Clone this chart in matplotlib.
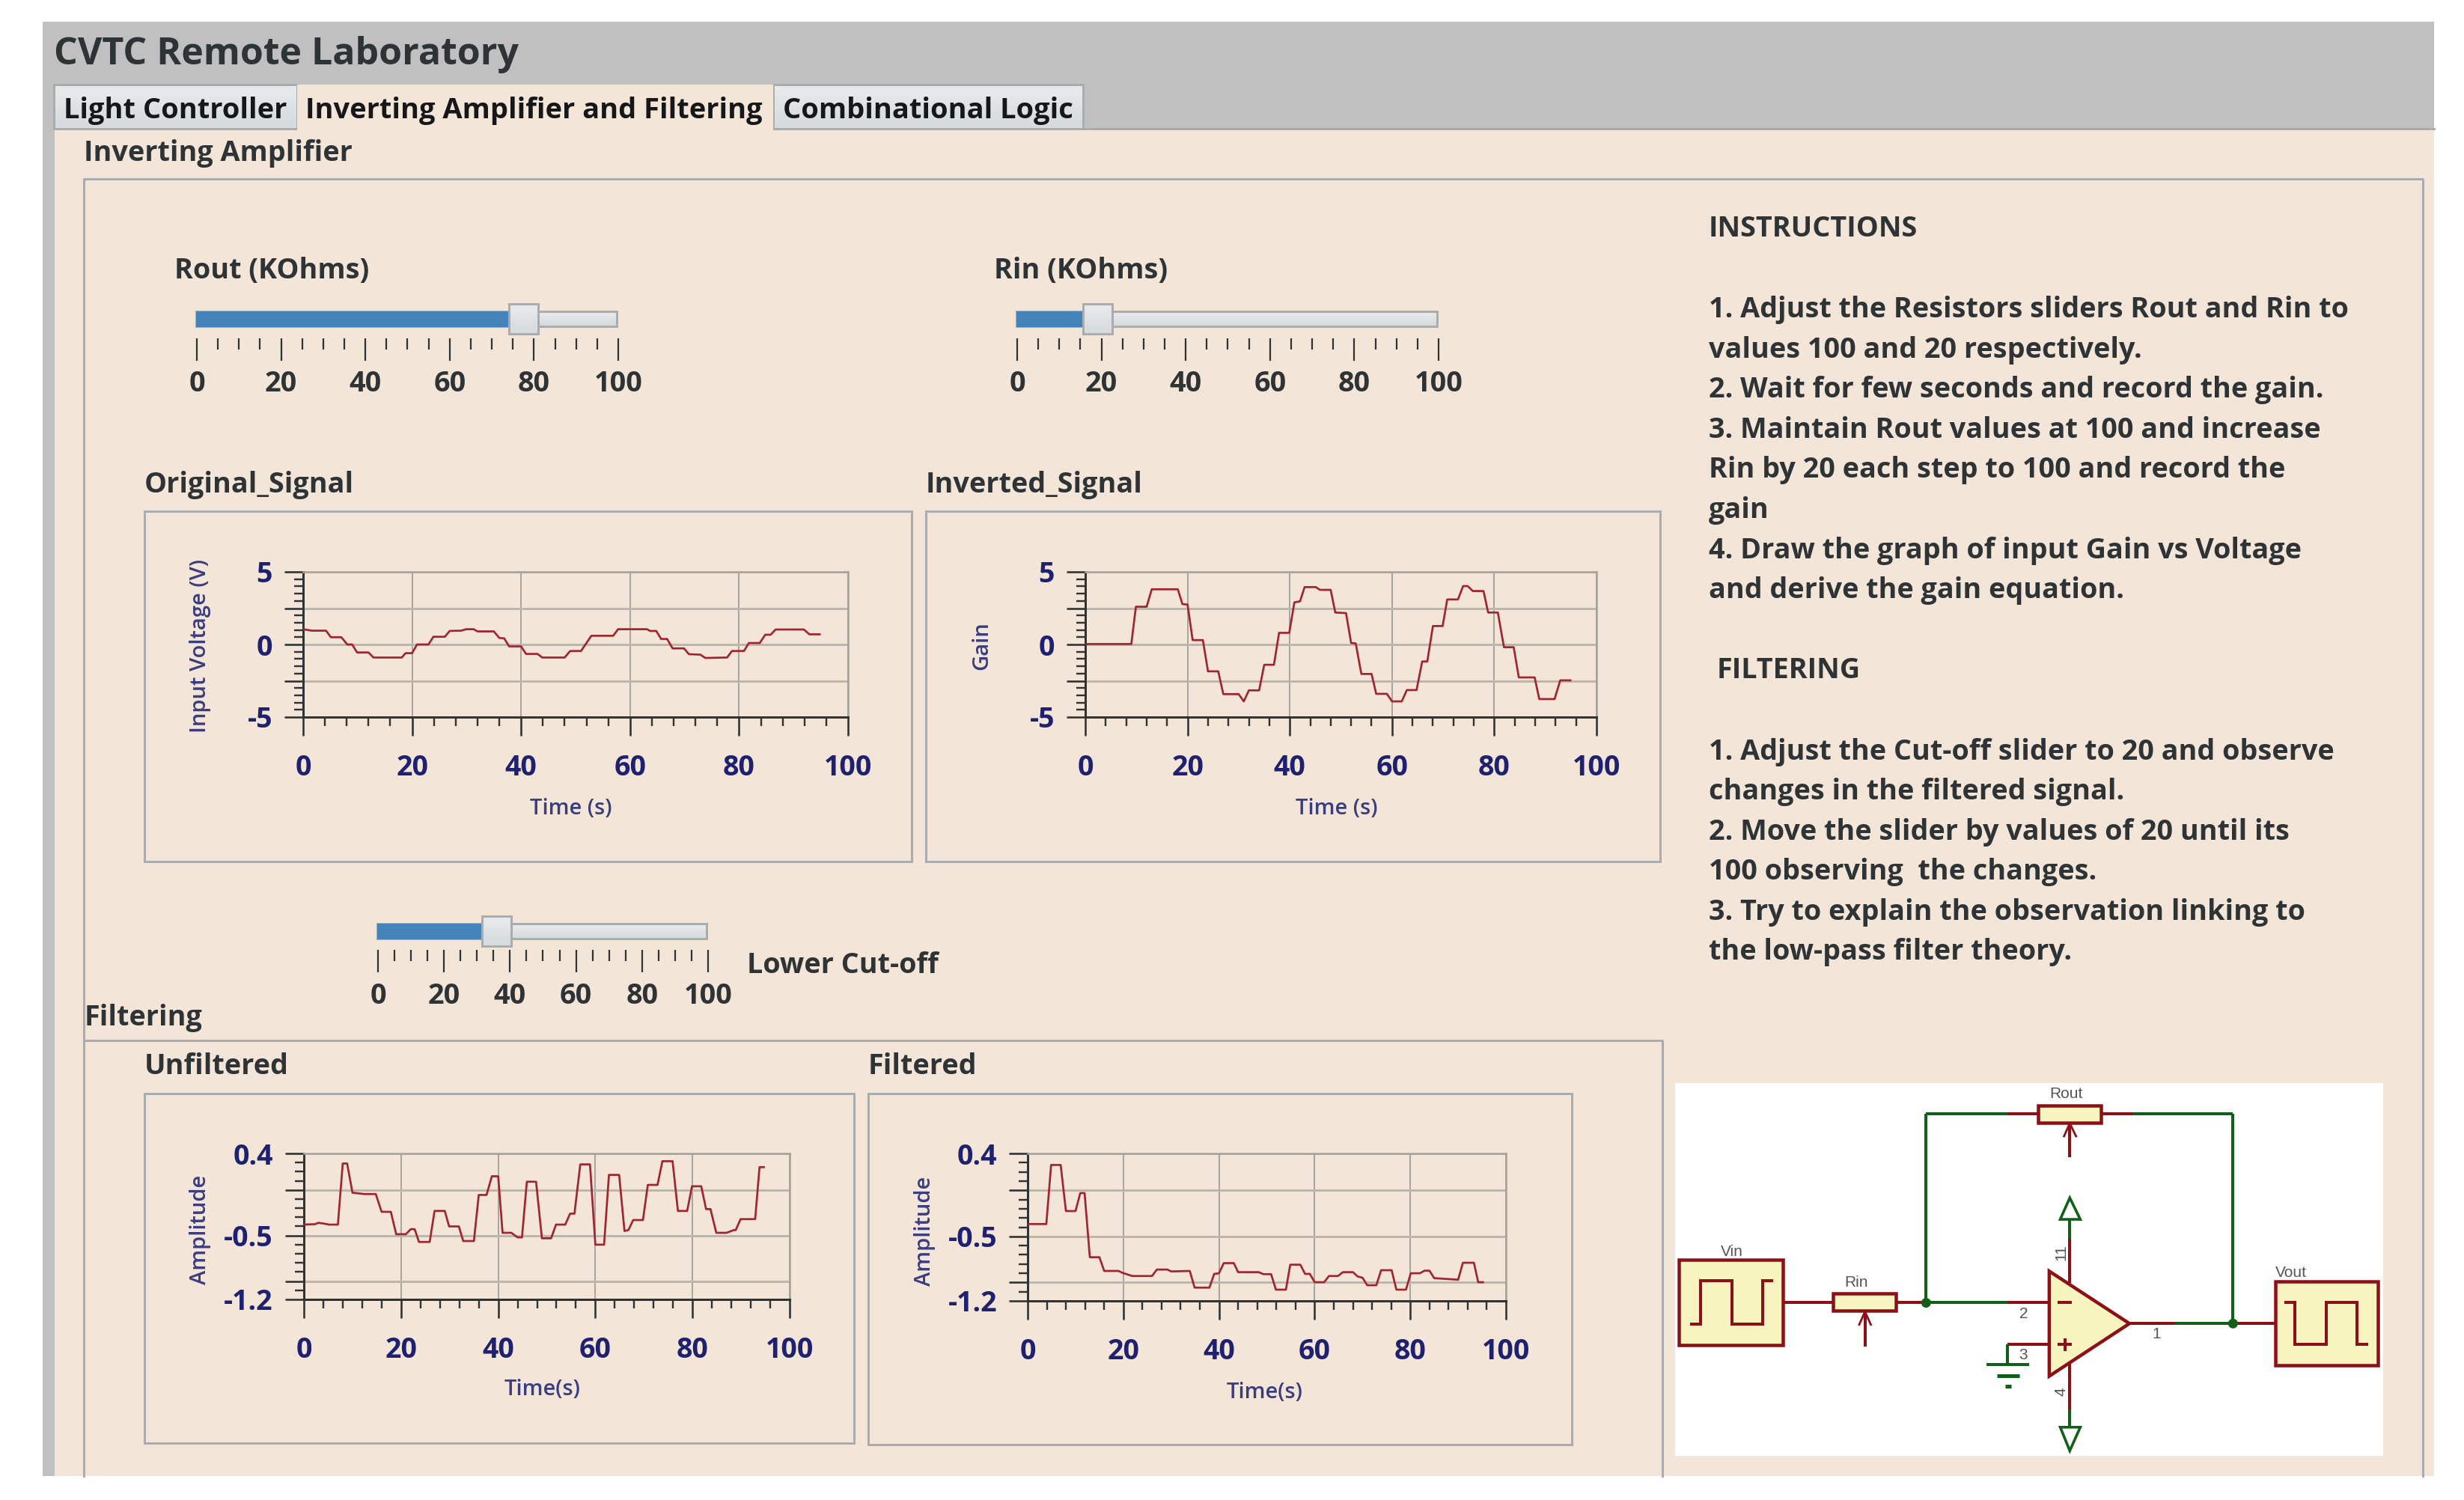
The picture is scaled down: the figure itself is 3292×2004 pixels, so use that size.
import numpy as np
from matplotlib import pyplot as plt
from matplotlib.patches import Polygon, Rectangle, Circle

W, H = 3292, 2004
PX = 0.72  # one pixel in points at dpi 100
FONT = "Open Sans"
DARK = "#2e3336"
NAVY = "#1d2170"
NAVY_SOFT = "#3a3d7e"
PEACH = "#f3e5d8"
HEADER = "#c0c0c0"
BORDER = "#aaadaf"
CURVE = "#a1252e"
WIRE_RED = "#8c1016"
WIRE_GREEN = "#11601a"
PART = "#f8f4c0"

# signals
orig_t = [0, 1.6, 4.2, 5.1, 7, 8.1, 9, 9.9, 12, 12.9, 18.1, 18.8, 20, 20.9, 23, 23.9, 26, 26.9, 29, 29.9,
          31.3, 32, 35, 36, 36.9, 37.8, 40, 40.9, 43, 43.9, 48, 49, 51, 52.9, 56.9, 57.8, 63.1, 63.7, 64.8,
          65.7, 66.8, 67.8, 69.9, 70.8, 72.9, 73.8, 77.8, 78.7, 80.9, 81.8, 83.8, 84.8, 85.8, 86.7, 91.9,
          92.9, 94.8]
orig_v = [1.05, 0.95, 0.95, 0.5, 0.5, 0, 0, -0.55, -0.55, -0.9, -0.9, -0.6, -0.6, 0, 0, 0.53, 0.53, 0.93,
          0.95, 1.05, 1.05, 0.9, 0.9, 0.45, 0.42, -0.13, -0.13, -0.65, -0.65, -0.9, -0.9, -0.45, -0.45, 0.6,
          0.6, 1.05, 1.05, 0.93, 0.93, 0.38, 0.38, -0.27, -0.27, -0.67, -0.7, -0.93, -0.9, -0.45, -0.45, 0.1,
          0.1, 0.67, 0.67, 1.03, 1.03, 0.7, 0.7]

inv_t = [0, 9, 9.9, 12, 13, 18.1, 19, 20, 21, 23, 24, 26, 27, 30, 31, 32, 34, 35, 36.9, 37.9, 39.9, 40.9,
         42, 42.9, 45.1, 45.9, 48, 48.9, 51, 52, 52.9, 54, 56, 56.9, 59, 60, 61.9, 62.9, 64.8, 65.9, 66.9,
         68, 69.9, 70.8, 72.9, 73.9, 74.8, 75.8, 77.9, 78.8, 80.7, 81.9, 83.8, 84.8, 87.9, 88.8, 91.8, 92.9,
         94.9]
inv_v = [0.03, 0.03, 2.6, 2.6, 3.8, 3.8, 2.78, 2.75, 0.3, 0.3, -1.85, -1.85, -3.42, -3.42, -3.92, -3.16,
         -3.16, -1.4, -1.4, 0.8, 0.8, 2.9, 2.97, 3.95, 3.95, 3.76, 3.76, 2.2, 2.16, 0.1, 0.07, -2.03, -2.03,
         -3.4, -3.4, -3.92, -3.92, -3.14, -3.14, -1.17, -1.17, 1.27, 1.27, 3.1, 3.1, 4.02, 4.02, 3.68, 3.68,
         2.2, 2.2, -0.19, -0.19, -2.27, -2.27, -3.76, -3.76, -2.47, -2.47]

unf_t = [0, 2.3, 3, 4.2, 5.2, 7, 8, 8.9, 10, 12.4, 14.8, 16, 17.9, 19, 21, 22, 22.8, 23.7, 25.9, 26.9, 29,
         29.9, 31.9, 32.8, 35, 36, 37.6, 38.7, 40, 40.9, 42.7, 44, 44.9, 45.9, 47.8, 49, 50.9, 51.9, 53.8,
         54.8, 55.7, 56.9, 58.9, 60, 61.8, 62.8, 64.9, 66, 66.8, 67.8, 69.8, 70.8, 72.8, 73.8, 75.9, 77,
         78.9, 79.9, 81.8, 82.8, 83.7, 84.9, 87, 88.5, 88.9, 89.9, 92.9, 93.8, 94.7]
unf_v = [-0.38, -0.375, -0.36, -0.37, -0.38, -0.38, 0.29, 0.29, -0.03, -0.045, -0.045, -0.24, -0.24, -0.485,
         -0.485, -0.43, -0.43, -0.57, -0.57, -0.23, -0.23, -0.4, -0.4, -0.56, -0.56, -0.055, -0.055, 0.15,
         0.15, -0.47, -0.47, -0.52, -0.52, 0.09, 0.09, -0.53, -0.53, -0.38, -0.38, -0.26, -0.26, 0.28, 0.28,
         -0.6, -0.6, 0.165, 0.165, -0.45, -0.44, -0.33, -0.33, 0.055, 0.055, 0.315, 0.315, -0.23, -0.23,
         0.04, 0.04, -0.21, -0.21, -0.47, -0.47, -0.44, -0.44, -0.32, -0.32, 0.25, 0.25]

fil_t = [0, 3.9, 4.9, 6.9, 8, 10, 11, 11.9, 13, 15, 16, 19, 19.9, 21.9, 26, 27, 29.2, 30, 33.9, 34.9, 38, 39,
         40, 41, 43.1, 44, 48.3, 49.3, 50.9, 51.9, 54, 54.9, 57, 58, 59, 60, 62, 63, 64.9, 65.9, 68, 69, 70,
         71, 72.9, 73.9, 76.1, 77.1, 79.1, 80.1, 82, 83, 84, 85, 90, 91, 93.3, 94.2, 95.2]
fil_v = [-0.366, -0.366, 0.275, 0.275, -0.225, -0.225, -0.03, -0.03, -0.726, -0.726, -0.875, -0.875, -0.897,
         -0.93, -0.93, -0.86, -0.86, -0.88, -0.875, -1.056, -1.056, -0.907, -0.9, -0.79, -0.79, -0.888, -0.888,
         -0.91, -0.91, -1.078, -1.078, -0.807, -0.807, -0.907, -0.907, -0.997, -0.997, -0.93, -0.93, -0.888,
         -0.888, -0.935, -0.948, -1.03, -1.03, -0.867, -0.867, -1.078, -1.078, -0.9, -0.9, -0.872, -0.872,
         -0.953, -0.97, -0.786, -0.786, -0.997, -0.997]

# slider settings
rout_value = 80
rin_value = 17
cutoff_value = 35
slider_labels = [0, 20, 40, 60, 80, 100]

tab_names = ["Light Controller", "Inverting Amplifier and Filtering", "Combinational Logic"]
instructions = [
    (316, 2283, "INSTRUCTIONS"),
    (424, 2283, "1. Adjust the Resistors sliders Rout and Rin to"),
    (478, 2283, "values 100 and 20 respectively."),
    (531, 2283, "2. Wait for few seconds and record the gain."),
    (585, 2283, "3. Maintain Rout values at 100 and increase"),
    (638, 2283, "Rin by 20 each step to 100 and record the"),
    (692, 2283, "gain"),
    (746, 2283, "4. Draw the graph of input Gain vs Voltage"),
    (799, 2283, "and derive the gain equation."),
    (906, 2294, "FILTERING"),
    (1015, 2283, "1. Adjust the Cut-off slider to 20 and observe"),
    (1068, 2283, "changes in the filtered signal."),
    (1122, 2283, "2. Move the slider by values of 20 until its"),
    (1175, 2283, "100 observing  the changes."),
    (1229, 2283, "3. Try to explain the observation linking to"),
    (1282, 2283, "the low-pass filter theory."),
]

plt.rcParams["font.family"] = [FONT, "DejaVu Sans"]
fig = plt.figure(figsize=(W / 100, H / 100), dpi=100, facecolor="white")
bg = fig.add_axes([0, 0, 1, 1])
bg.set_axis_off()


def label(x, y, s, size=27.2, weight="bold", color=DARK, **kw):
    kw.setdefault("va", "baseline")
    return bg.text(x, y, s, fontsize=size, fontweight=weight, color=color, **kw)


def box(x0, y0, x1, y1, fc="none", ec=BORDER, lw=3, z=1):
    bg.add_patch(Rectangle((x0, y0), x1 - x0, y1 - y0, fc=fc, ec=ec, lw=lw * PX, zorder=z))


def gradient(x0, y0, x1, y1, z=2):
    vals = np.array([[0.0], [1.0]])
    cmap = plt.matplotlib.colors.LinearSegmentedColormap.from_list("ui", ["#e8ebec", "#d6dbde"])
    bg.imshow(vals, extent=(x0, x1, y1, y0), aspect="auto", cmap=cmap, zorder=z, interpolation="bicubic")
    box(x0, y0, x1, y1, ec=BORDER, lw=3, z=z + 0.1)


def slider(x0, x1, y0, value, tick0, tick1, tick_y, label_y, handle_w=39):
    y1 = y0 + 20
    gradient(x0, y0, x1, y1, z=2)
    left = x0 + value / 100 * (x1 - x0 - handle_w)
    box(x0, y0, left, y1, fc="#4484ba", ec="#4484ba", lw=1, z=3)
    gradient(left, y0 - 10, left + handle_w, y1 + 10, z=4)
    for v in range(0, 101, 5):
        x = tick0 + v / 100 * (tick1 - tick0)
        major = v % 20 == 0
        bg.plot([x, x], [tick_y, tick_y + (30 if major else 15)], color=DARK, lw=2.2 * PX, zorder=2,
                solid_capstyle="butt")
    for v in slider_labels:
        x = tick0 + v / 100 * (tick1 - tick0)
        label(x, label_y, str(v), ha="center", va="center")


def chart(rect, t, v, ylim, y_major, y_minor, y_labels, xlabel, xlabel_at, ylabel, ylabel_at):
    x0, y0, x1, y1 = rect
    ax = fig.add_axes([x0 / W, 1 - y1 / H, (x1 - x0) / W, (y1 - y0) / H], facecolor="none")
    ax.plot(t, v, color=CURVE, lw=2.7 * PX, zorder=3)
    ax.set_xlim(0, 100)
    ax.set_ylim(*ylim)
    ax.set_xticks(range(0, 101, 20))
    ax.set_xticks(range(0, 101, 4), minor=True)
    ax.set_yticks(y_major)
    ax.set_yticklabels(y_labels, va="center_baseline")
    ax.set_yticks(y_minor, minor=True)
    ax.tick_params(axis="both", which="major", length=25 * PX, width=2.6 * PX, color=DARK,
                   labelsize=27, labelcolor=NAVY)
    ax.tick_params(axis="both", which="minor", length=12 * PX, width=2.4 * PX, color=DARK)
    ax.tick_params(axis="x", which="major", pad=24 * PX)
    ax.tick_params(axis="y", which="major", pad=16 * PX)
    for lab in ax.get_xticklabels() + ax.get_yticklabels():
        lab.set_fontweight("bold")
    ax.xaxis.grid(True, which="major", color="#a8a6a0", lw=2 * PX)
    ax.yaxis.grid(True, which="major", color="#bdb6ac", lw=3 * PX)
    ax.set_axisbelow(True)
    for side in ("left", "bottom"):
        ax.spines[side].set_color(DARK)
        ax.spines[side].set_linewidth(3 * PX)
    for side in ("top", "right"):
        ax.spines[side].set_color("#a7a49c")
        ax.spines[side].set_linewidth(2.6 * PX)
    ax.set_xlabel(xlabel, fontsize=21, fontweight="semibold", color=NAVY_SOFT, va="center", ha="center")
    ax.xaxis.set_label_coords((xlabel_at[0] - x0) / (x1 - x0), (y1 - xlabel_at[1]) / (y1 - y0))
    ax.set_ylabel(ylabel, fontsize=21, fontweight="semibold", color=NAVY_SOFT, va="center", ha="center")
    ax.yaxis.set_label_coords((ylabel_at[0] - x0) / (x1 - x0), (y1 - ylabel_at[1]) / (y1 - y0))
    return ax


# window chrome
bg.add_patch(Rectangle((57, 29), 3252 - 57, 1972 - 29, fc=HEADER, ec="none", zorder=0))
bg.add_patch(Rectangle((73, 172), 3252 - 73, 1972 - 172, fc=PEACH, ec="none", zorder=0.5))
bg.plot([73, 3252], [172, 172], color=BORDER, lw=3 * PX, zorder=0.6)
label(72, 86, "CVTC Remote Laboratory", size=36)

gradient(72, 113, 397, 172)
gradient(1033, 113, 1447, 172)
bg.add_patch(Rectangle((397, 113), 636, 61, fc=PEACH, ec="none", zorder=3))
for x, name in zip((85, 408, 1046), tab_names):
    label(x, 158, name, size=27.4, color="#151719", zorder=4)

# group frames, open at the bottom
label(112, 215, "Inverting Amplifier")
bg.plot([112, 112, 3237, 3237], [1972, 239, 239, 1972], color=BORDER, lw=3 * PX, zorder=1)
label(113, 1370, "Filtering")
bg.plot([112, 2221, 2221], [1390, 1390, 1972], color=BORDER, lw=3 * PX, zorder=1)
for x0, y0, x1, y1 in [(193, 683, 1218, 1151), (1237, 683, 2218, 1151),
                       (193, 1461, 1141, 1928), (1160, 1461, 2100, 1930)]:
    box(x0, y0, x1, y1)

# sliders
label(233, 372, "Rout (KOhms)")
slider(262, 824, 416, rout_value, 263, 826, 452, 513)
label(1328, 372, "Rin (KOhms)")
slider(1358, 1920, 416, rin_value, 1359, 1922, 452, 513)
slider(504, 944, 1234, cutoff_value, 505, 946, 1269, 1331)
label(998, 1300, "Lower Cut-off")

label(193, 658, "Original_Signal")
label(1237, 658, "Inverted_Signal")
label(193, 1435, "Unfiltered")
label(1160, 1435, "Filtered")

for y, x, s in instructions:
    label(x, y, s)

# charts
five = ["5", "", "0", "", "-5"]
five_major = [5, 2.5, 0, -2.5, -5]
five_minor = np.arange(-5, 5.01, 0.5)
low_major = [0.4, 0, -0.5, -1, -1.2]
low_labels = ["0.4", "", "-0.5", "", "-1.2"]
low_minor = np.arange(-1.2, 0.41, 0.1)

chart((405, 764, 1133, 958), orig_t, orig_v, (-5, 5), five_major, five_minor, five,
      "Time (s)", (763, 1080), "Input Voltage (V)", (268, 863))
chart((1450, 764, 2133, 958), inv_t, inv_v, (-5, 5), five_major, five_minor, five,
      "Time (s)", (1786, 1080), "Gain", (1312, 863))
chart((406, 1541, 1055, 1736), unf_t, unf_v, (-1.2, 0.4), low_major, low_minor, low_labels,
      "Time(s)", (725, 1857), "Amplitude", (268, 1643))
chart((1373, 1541, 2012, 1738), fil_t, fil_v, (-1.2, 0.4), low_major, low_minor, low_labels,
      "Time(s)", (1690, 1860), "Amplitude", (1235, 1645))

# op-amp schematic, positions taken in the zoomed crop of the screenshot
def sx(x):
    return 2250 + x / 1.568


def sy(y):
    return 1450 + y / 2.96


def wire(xs, ys, color=WIRE_RED, lw=4, z=6):
    bg.plot([sx(x) for x in xs], [sy(y) for y in ys], color=color, lw=lw * PX, zorder=z,
            solid_capstyle="butt", solid_joinstyle="miter")


def part(x0, y0, x1, y1):
    box(sx(x0), sy(y0), sx(x1), sy(y1), fc=PART, ec=WIRE_RED, lw=4.5, z=7)


def note(x, y, s, rot=0):
    bg.text(sx(x), sy(y), s, fontsize=15, color="#555555", ha="center", va="center", rotation=rot,
            zorder=8, family="Liberation Sans")


bg.add_patch(Rectangle((2238, 1447), 3184 - 2238, 1945 - 1447, fc="white", ec="none", zorder=5))
wire([507, 678], [113, 113], WIRE_GREEN)
wire([678, 742], [113, 113])
wire([873, 940], [113, 113])
wire([940, 1150], [113, 113], WIRE_GREEN)
wire([507, 507], [113, 860], WIRE_GREEN)
wire([1150, 1150], [113, 942], WIRE_GREEN)
part(742, 80, 873, 148)
wire([808, 808], [285, 150])
wire([795, 808, 822], [205, 150, 205], lw=2.8)
part(-11, 690, 207, 1027)
wire([12, 35, 35, 100, 100, 165, 165, 187], [943, 943, 773, 773, 943, 943, 773, 773], z=8)
wire([207, 312], [858, 858])
part(312, 823, 443, 892)
wire([443, 507], [858, 858])
wire([379, 379], [1032, 895])
wire([366, 379, 392], [950, 895, 950], lw=2.8)
wire([507, 678], [858, 858], WIRE_GREEN)
wire([678, 765], [858, 858])
wire([678, 765], [1025, 1025])
wire([678, 678], [1025, 1105], WIRE_GREEN)
wire([633, 723], [1105, 1105], WIRE_GREEN)
wire([655, 703], [1148, 1148], WIRE_GREEN, lw=5)
wire([672, 686], [1190, 1190], WIRE_GREEN, lw=5)
wire([933, 1027], [942, 942])
wire([1027, 1150], [942, 942], WIRE_GREEN)
wire([1150, 1238], [942, 942])
wire([808, 808], [780, 608])
wire([808, 808], [608, 530], WIRE_GREEN)
wire([808, 808], [1100, 1283])
wire([808, 808], [1283, 1352], WIRE_GREEN)
bg.add_patch(Polygon([(sx(808), sy(445)), (sx(788), sy(530)), (sx(830), sy(530))], fc="white",
                     ec=WIRE_GREEN, lw=3.6 * PX, zorder=7))
bg.add_patch(Polygon([(sx(808), sy(1445)), (sx(788), sy(1352)), (sx(830), sy(1352))], fc="white",
                     ec=WIRE_GREEN, lw=3.6 * PX, zorder=7))
bg.add_patch(Polygon([(sx(765), sy(735)), (sx(765), sy(1150)), (sx(933), sy(942))], fc=PART,
                     ec=WIRE_RED, lw=4.5 * PX, zorder=7))
wire([783, 813], [858, 858], z=8)
wire([783, 813], [1025, 1025], z=8)
wire([798, 798], [1000, 1050], z=8)
part(1238, 775, 1453, 1108)
wire([1257, 1280, 1280, 1345, 1345, 1410, 1410, 1433], [858, 858, 1025, 1025, 858, 858, 1025, 1025], z=8)
for x, y in [(507, 860), (1150, 942)]:
    bg.add_patch(Circle((sx(x), sy(y)), 6.5, fc=WIRE_GREEN, ec="none", zorder=8))
note(800, 35, "Rout")
note(100, 660, "Vin")
note(360, 780, "Rin")
note(1272, 740, "Vout")
note(711, 903, "2")
note(711, 1068, "3")
note(990, 985, "1")
note(790, 660, "11", rot=90)
note(790, 1210, "4", rot=90)

bg.set_xlim(0, W)
bg.set_ylim(H, 0)
fig.savefig("out.png", dpi=100)
